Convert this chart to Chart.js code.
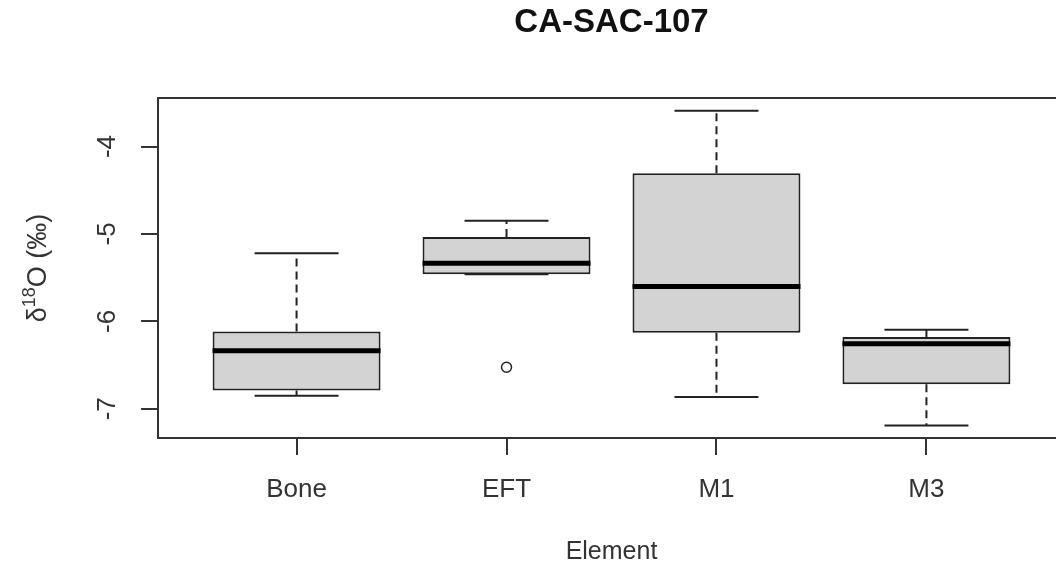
<!DOCTYPE html>
<html>
<head>
<meta charset="utf-8">
<title>CA-SAC-107</title>
<script src="https://cdn.jsdelivr.net/npm/chart.js@4/dist/chart.umd.min.js"></script>
<style>
  html, body { margin: 0; padding: 0; background: #fff; overflow: hidden; }
  #wrap { width: 1075px; height: 574px; position: relative; }
</style>
</head>
<body>
<div id="wrap"><canvas id="boxChart"></canvas></div>
<script>
// Data (delta 18O, per mil)
const categories = ['Bone', 'EFT', 'M1', 'M3'];
const lowerWhisker = [-6.85, -5.46, -6.865, -7.19];
const q1 = [-6.79, -5.46, -6.13, -6.72];
const medians = [-6.335, -5.335, -5.60, -6.255];
const q3 = [-6.115, -5.035, -4.305, -6.18];
const upperWhisker = [-5.22, -4.85, -3.59, -6.095];
const outlierCats = [2];
const outlierVals = [-6.525];
const yTicks = [-7, -6, -5, -4];

const FONT = "'Liberation Sans', Arial, Helvetica, sans-serif";
const INK = '#222';
const TITLE = 'CA-SAC-107';

// Whiskers, medians, frame and titles drawn through the chart's scales
const boxExtras = {
    id: 'boxExtras',
    afterDatasetsDraw(chart) {
        const { ctx, scales: { x, y } } = chart;
        const meta = chart.getDatasetMeta(0);
        ctx.save();
        categories.forEach((c, i) => {
            const cx = x.getPixelForValue(i + 1);
            const bar = meta.data[i];
            const half = bar.width / 2;
            const capHalf = half / 2;

            // dashed whiskers
            ctx.strokeStyle = INK;
            ctx.lineWidth = 2;
            ctx.setLineDash([8, 5]);
            ctx.beginPath();
            ctx.moveTo(cx, y.getPixelForValue(q3[i]));
            ctx.lineTo(cx, y.getPixelForValue(upperWhisker[i]));
            ctx.moveTo(cx, y.getPixelForValue(q1[i]));
            ctx.lineTo(cx, y.getPixelForValue(lowerWhisker[i]));
            ctx.stroke();
            ctx.setLineDash([]);

            // staples
            ctx.beginPath();
            [upperWhisker[i], lowerWhisker[i]].forEach(v => {
                const py = y.getPixelForValue(v);
                ctx.moveTo(cx - capHalf, py);
                ctx.lineTo(cx + capHalf, py);
            });
            ctx.stroke();

            // median
            ctx.strokeStyle = '#000';
            ctx.lineWidth = 5;
            ctx.beginPath();
            const my = y.getPixelForValue(medians[i]);
            ctx.moveTo(cx - half, my);
            ctx.lineTo(cx + half, my);
            ctx.stroke();
        });
        ctx.restore();
    },
    afterDraw(chart) {
        const { ctx, chartArea: a } = chart;
        ctx.save();
        // plot frame
        ctx.strokeStyle = '#333';
        ctx.lineWidth = 2;
        ctx.strokeRect(a.left, a.top, a.right - a.left, a.bottom - a.top);

        // main title, centred over the plot region
        ctx.fillStyle = '#111';
        ctx.font = 'bold 33px ' + FONT;
        ctx.textAlign = 'center';
        ctx.textBaseline = 'middle';
        ctx.fillText(TITLE, (a.left + a.right) / 2, 23);

        // y axis title with superscript
        ctx.fillStyle = '#333';
        ctx.translate(37, (a.top + a.bottom) / 2);
        ctx.rotate(-Math.PI / 2);
        const big = '27px ' + FONT, small = '18px ' + FONT;
        const parts = [['\u03b4', big, 0], ['18', small, -9], ['O (\u2030)', big, 0]];
        let total = 0;
        parts.forEach(p => { ctx.font = p[1]; total += ctx.measureText(p[0]).width; });
        let px = -total / 2;
        parts.forEach(p => {
            ctx.font = p[1];
            ctx.textAlign = 'left';
            ctx.fillText(p[0], px, p[2] + 2);
            px += ctx.measureText(p[0]).width;
        });
        ctx.restore();
    }
};

const ctx = document.getElementById('boxChart').getContext('2d');
const chart = new Chart(ctx, {
    data: {
        datasets: [{
            type: 'bar',
            label: 'IQR',
            data: categories.map((c, i) => ({ x: i + 1, y: [q1[i], q3[i]] })),
            backgroundColor: '#d3d3d3',
            borderColor: INK,
            borderWidth: 2,
            borderSkipped: false,
            categoryPercentage: 1,
            barPercentage: 0.8
        }, {
            type: 'scatter',
            label: 'Outliers',
            data: outlierCats.map((c, i) => ({ x: c, y: outlierVals[i] })),
            pointRadius: 5,
            pointBorderWidth: 1.5,
            pointBackgroundColor: '#fff',
            pointBorderColor: INK
        }]
    },
    options: {
        responsive: true,
        maintainAspectRatio: false,
        animation: false,
        layout: { padding: { left: 0, right: 10, top: 98, bottom: 0 } },
        plugins: {
            legend: { display: false },
            tooltip: { enabled: false },
            title: { display: false }
        },
        scales: {
            x: {
                type: 'linear',
                min: 0.34,
                max: 4.66,
                offset: false,
                afterBuildTicks: s => { s.ticks = categories.map((c, i) => ({ value: i + 1 })); },
                afterFit: s => { s.height = 136; },
                grid: { offset: false, drawOnChartArea: false, drawTicks: true, tickLength: 17, tickColor: '#333', lineWidth: 2 },
                border: { display: false },
                ticks: {
                    color: '#333',
                    font: { family: FONT, size: 26 },
                    padding: 19,
                    maxRotation: 0,
                    autoSkip: false,
                    callback: v => categories[v - 1]
                },
                title: {
                    display: true,
                    text: 'Element',
                    color: '#333',
                    font: { family: FONT, size: 25 },
                    padding: { top: 0, bottom: 7 }
                }
            },
            y: {
                min: -7.334,
                max: -3.445,
                afterBuildTicks: s => { s.ticks = yTicks.map(v => ({ value: v })); },
                afterFit: s => { s.width = 158; },
                grid: { drawOnChartArea: false, drawTicks: true, tickLength: 17, tickColor: '#333', lineWidth: 2 },
                border: { display: false },
                ticks: {
                    color: '#333',
                    font: { family: FONT, size: 26 },
                    padding: 22,
                    minRotation: 90,
                    maxRotation: 90,
                    crossAlign: 'center'
                }
            }
        }
    },
    plugins: [boxExtras]
});
</script>
</body>
</html>
